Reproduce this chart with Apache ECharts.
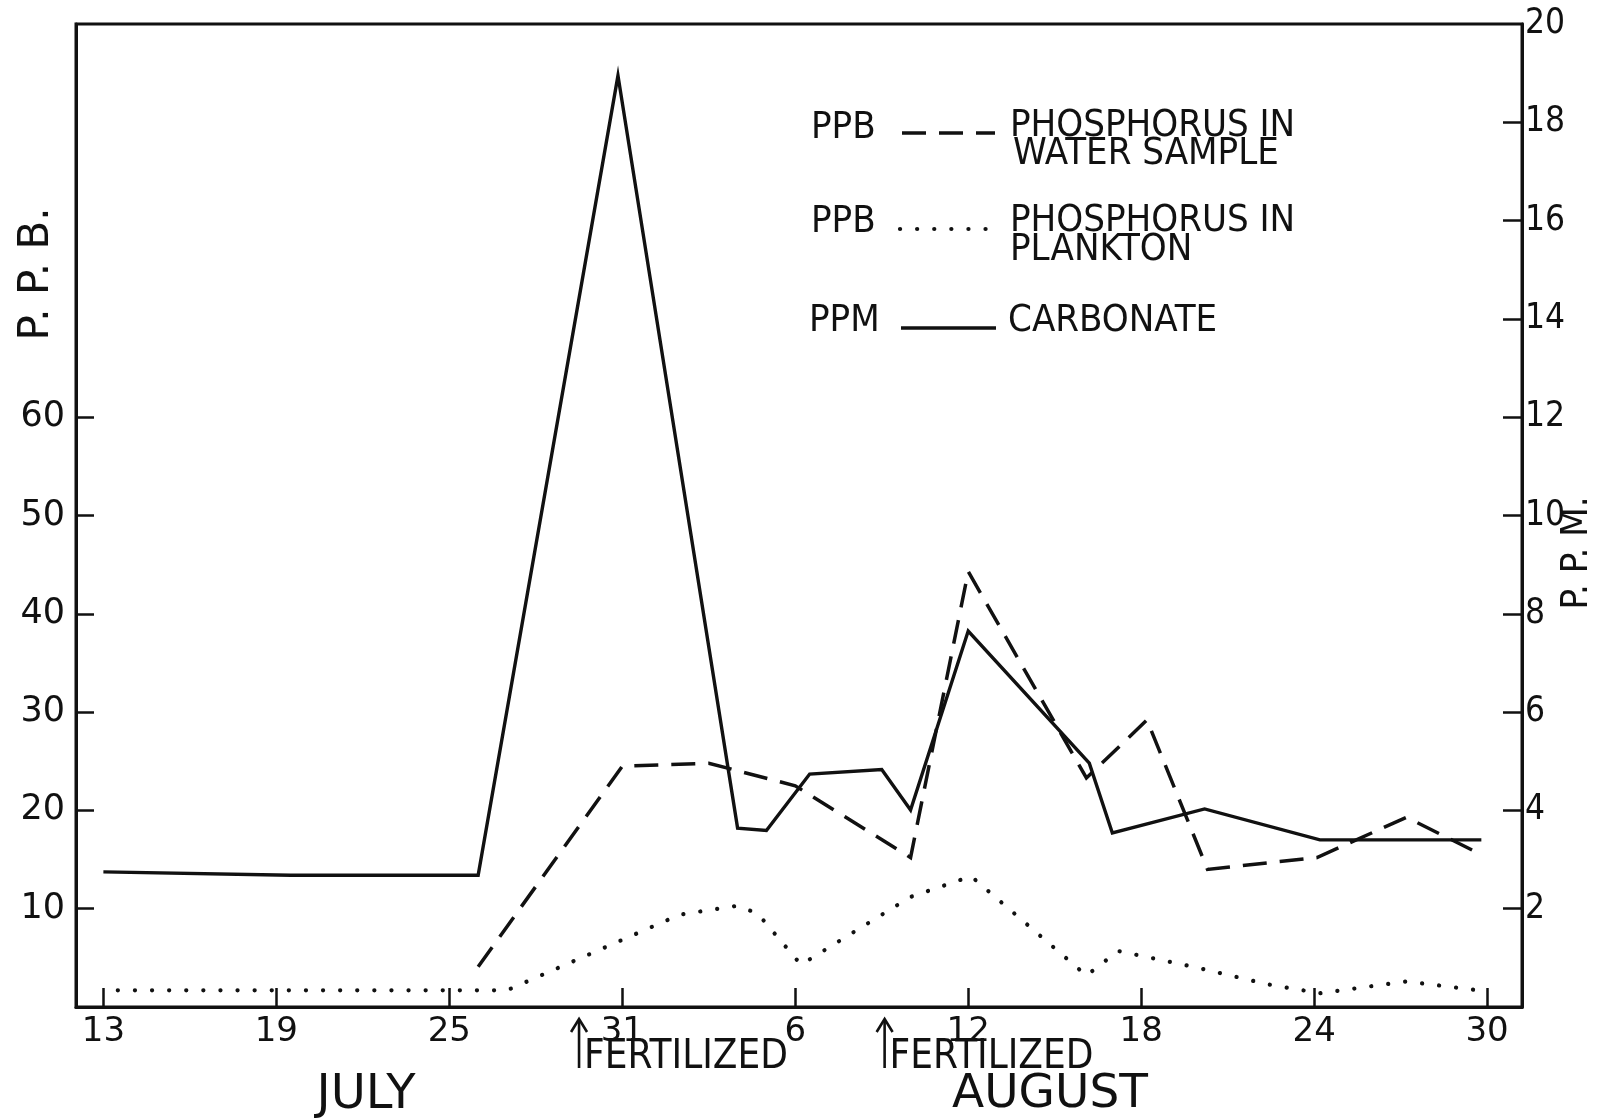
<!DOCTYPE html>
<html>
<head>
<meta charset="utf-8">
<script src="https://cdn.jsdelivr.net/npm/echarts@6/dist/echarts.min.js"></script>
<style>
  html, body { margin: 0; padding: 0; background: #fff; }
  #chart { width: 1597px; height: 1118px; }
</style>
</head>
<body>
<div id="chart"></div>
<script>
// Sampling days are counted from July 1 (August 1 = day 32).
const carbonateDays = [13, 19.5, 26, 30.85, 35, 36, 37.5, 40, 41, 43, 47.2, 48, 51.2, 55.2, 60.8];
const carbonatePPM  = [2.75, 2.68, 2.68, 18.95, 3.64, 3.59, 4.74, 4.83, 4.01, 7.65, 4.96, 3.54, 4.03, 3.40, 3.40];

const waterDays = [26, 31, 34, 37, 41, 43, 47.1, 49.2, 51.3, 55.1, 58.2, 60.8];
const waterPPB  = [4.1, 24.5, 24.8, 22.5, 15.2, 44.3, 23.3, 29.2, 14.0, 15.2, 19.3, 15.5];

const planktonDays = [13.5, 27, 33, 35, 35.7, 37.2, 41, 43.1, 47.1, 48.2, 50.8, 53.4, 55.2, 58.2, 60.7];
const planktonPPB  = [1.7, 1.7, 9.4, 10.3, 9.5, 4.3, 11.2, 13.3, 3.2, 5.7, 4.1, 2.3, 1.4, 2.6, 1.7];

const xTickDays   = [13, 19, 25, 31, 37, 43, 49, 55, 61];
const xTickLabels = ['13', '19', '25', '31', '6', '12', '18', '24', '30'];
const ppbTicks    = [10, 20, 30, 40, 50, 60];
const ppmTicks    = [2, 4, 6, 8, 10, 12, 14, 16, 18];
const ppmLabels   = [2, 4, 6, 8, 10, 12, 14, 16, 18, 20];
const fertilizedDays = [29.5, 40.1];

const INK = '#111';
const FONT = 'DejaVu Sans';
const NARROW = 'DejaVu Sans Condensed';
const solidStyle  = { color: INK, width: 3.4, type: 'solid', join: 'miter' };
const dashedStyle = { color: INK, width: 3.5, type: [24, 13], join: 'miter' };
const dottedStyle = { color: INK, width: 4.2, type: [0.1, 17], cap: 'round' };

const pairs = (xs, ys) => xs.map((x, i) => [x, ys[i]]);

const chart = echarts.init(document.getElementById('chart'), null, { renderer: 'canvas' });

const axisLine = { show: true, lineStyle: { color: INK, width: 3 } };
const tickLine = { color: INK, width: 2.5 };

chart.setOption({
  animation: false,
  backgroundColor: '#fff',
  grid: { left: 76, right: 75, top: 24, bottom: 111, show: true, borderColor: INK, borderWidth: 3, backgroundColor: 'transparent' },
  xAxis: {
    type: 'value', min: 12.05, max: 62.21,
    axisLine: axisLine,
    splitLine: { show: false },
    axisTick: { show: true, inside: true, length: 19, customValues: xTickDays, lineStyle: tickLine },
    axisLabel: {
      customValues: xTickDays, margin: 8, color: INK, fontFamily: FONT, fontSize: 34,
      formatter: v => xTickLabels[xTickDays.indexOf(v)] ?? ''
    }
  },
  yAxis: [
    {
      type: 'value', position: 'left', min: 0, max: 100,
      axisLine: axisLine,
      splitLine: { show: false },
      axisTick: { show: true, inside: true, length: 18, customValues: ppbTicks, lineStyle: tickLine },
      axisLabel: { customValues: ppbTicks, margin: 11, color: INK, fontFamily: FONT, fontSize: 35 }
    },
    {
      type: 'value', position: 'right', min: 0, max: 20,
      axisLine: axisLine,
      splitLine: { show: false },
      axisTick: { show: true, inside: true, length: 19, customValues: ppmTicks, lineStyle: tickLine },
      axisLabel: { customValues: ppmLabels, margin: 3, color: INK, fontFamily: NARROW, fontSize: 35 }
    }
  ],
  series: [
    { name: 'PHOSPHORUS IN PLANKTON', type: 'line', yAxisIndex: 0, symbol: 'none', data: pairs(planktonDays, planktonPPB), lineStyle: dottedStyle, z: 2 },
    { name: 'PHOSPHORUS IN WATER SAMPLE', type: 'line', yAxisIndex: 0, symbol: 'none', data: pairs(waterDays, waterPPB), lineStyle: dashedStyle, z: 3 },
    { name: 'CARBONATE', type: 'line', yAxisIndex: 1, symbol: 'none', data: pairs(carbonateDays, carbonatePPM), lineStyle: solidStyle, z: 4 }
  ]
});

// Annotations: axis titles, month names, key and fertilization markers.
const text = (x, y, s, size, extra) => ({
  type: 'text', x, y, silent: true,
  style: Object.assign({ text: s, fill: INK, fontFamily: NARROW, fontSize: size, align: 'left', verticalAlign: 'middle' }, extra || {})
});
const seg = (x1, y1, x2, y2, ls) => ({
  type: 'line', silent: true,
  shape: { x1, y1, x2, y2 },
  style: { stroke: INK, lineWidth: ls.width, lineDash: Array.isArray(ls.type) ? ls.type : null, lineCap: ls.cap || 'butt' }
});

const graphics = [
  Object.assign(text(37, 274, 'P. P. B.', 42, { align: 'center', fontFamily: FONT }), { rotation: Math.PI / 2 }),
  Object.assign(text(1577, 553, 'P. P. M.', 38, { align: 'center' }), { rotation: Math.PI / 2 }),

  text(811, 128, 'PPB', 38),
  seg(902, 133, 995, 133, dashedStyle),
  text(1010, 126, 'PHOSPHORUS IN', 38),
  text(1013, 154, 'WATER SAMPLE', 38),

  text(811, 222, 'PPB', 38),
  seg(900, 229, 990, 229, dottedStyle),
  text(1010, 221, 'PHOSPHORUS IN', 38),
  text(1010, 250, 'PLANKTON', 38),

  text(809, 321, 'PPM', 38),
  seg(901, 328, 996, 328, solidStyle),
  text(1008, 321, 'CARBONATE', 38),

  text(366, 1096, 'JULY', 48, { align: 'center', fontFamily: FONT }),
  text(1050, 1095, 'AUGUST', 47, { align: 'center', fontFamily: FONT })
];

fertilizedDays.forEach(d => {
  const x = chart.convertToPixel({ xAxisIndex: 0 }, d);
  graphics.push(
    { type: 'line', silent: true, shape: { x1: x, y1: 1020, x2: x, y2: 1068 }, style: { stroke: INK, lineWidth: 2.6 } },
    { type: 'polyline', silent: true, shape: { points: [[x - 8, 1032], [x, 1019], [x + 8, 1032]] }, style: { stroke: INK, lineWidth: 2.6, fill: null } },
    text(x + 5, 1058, 'FERTILIZED', 40)
  );
});

chart.setOption({ graphic: { elements: graphics } });
</script>
</body>
</html>
